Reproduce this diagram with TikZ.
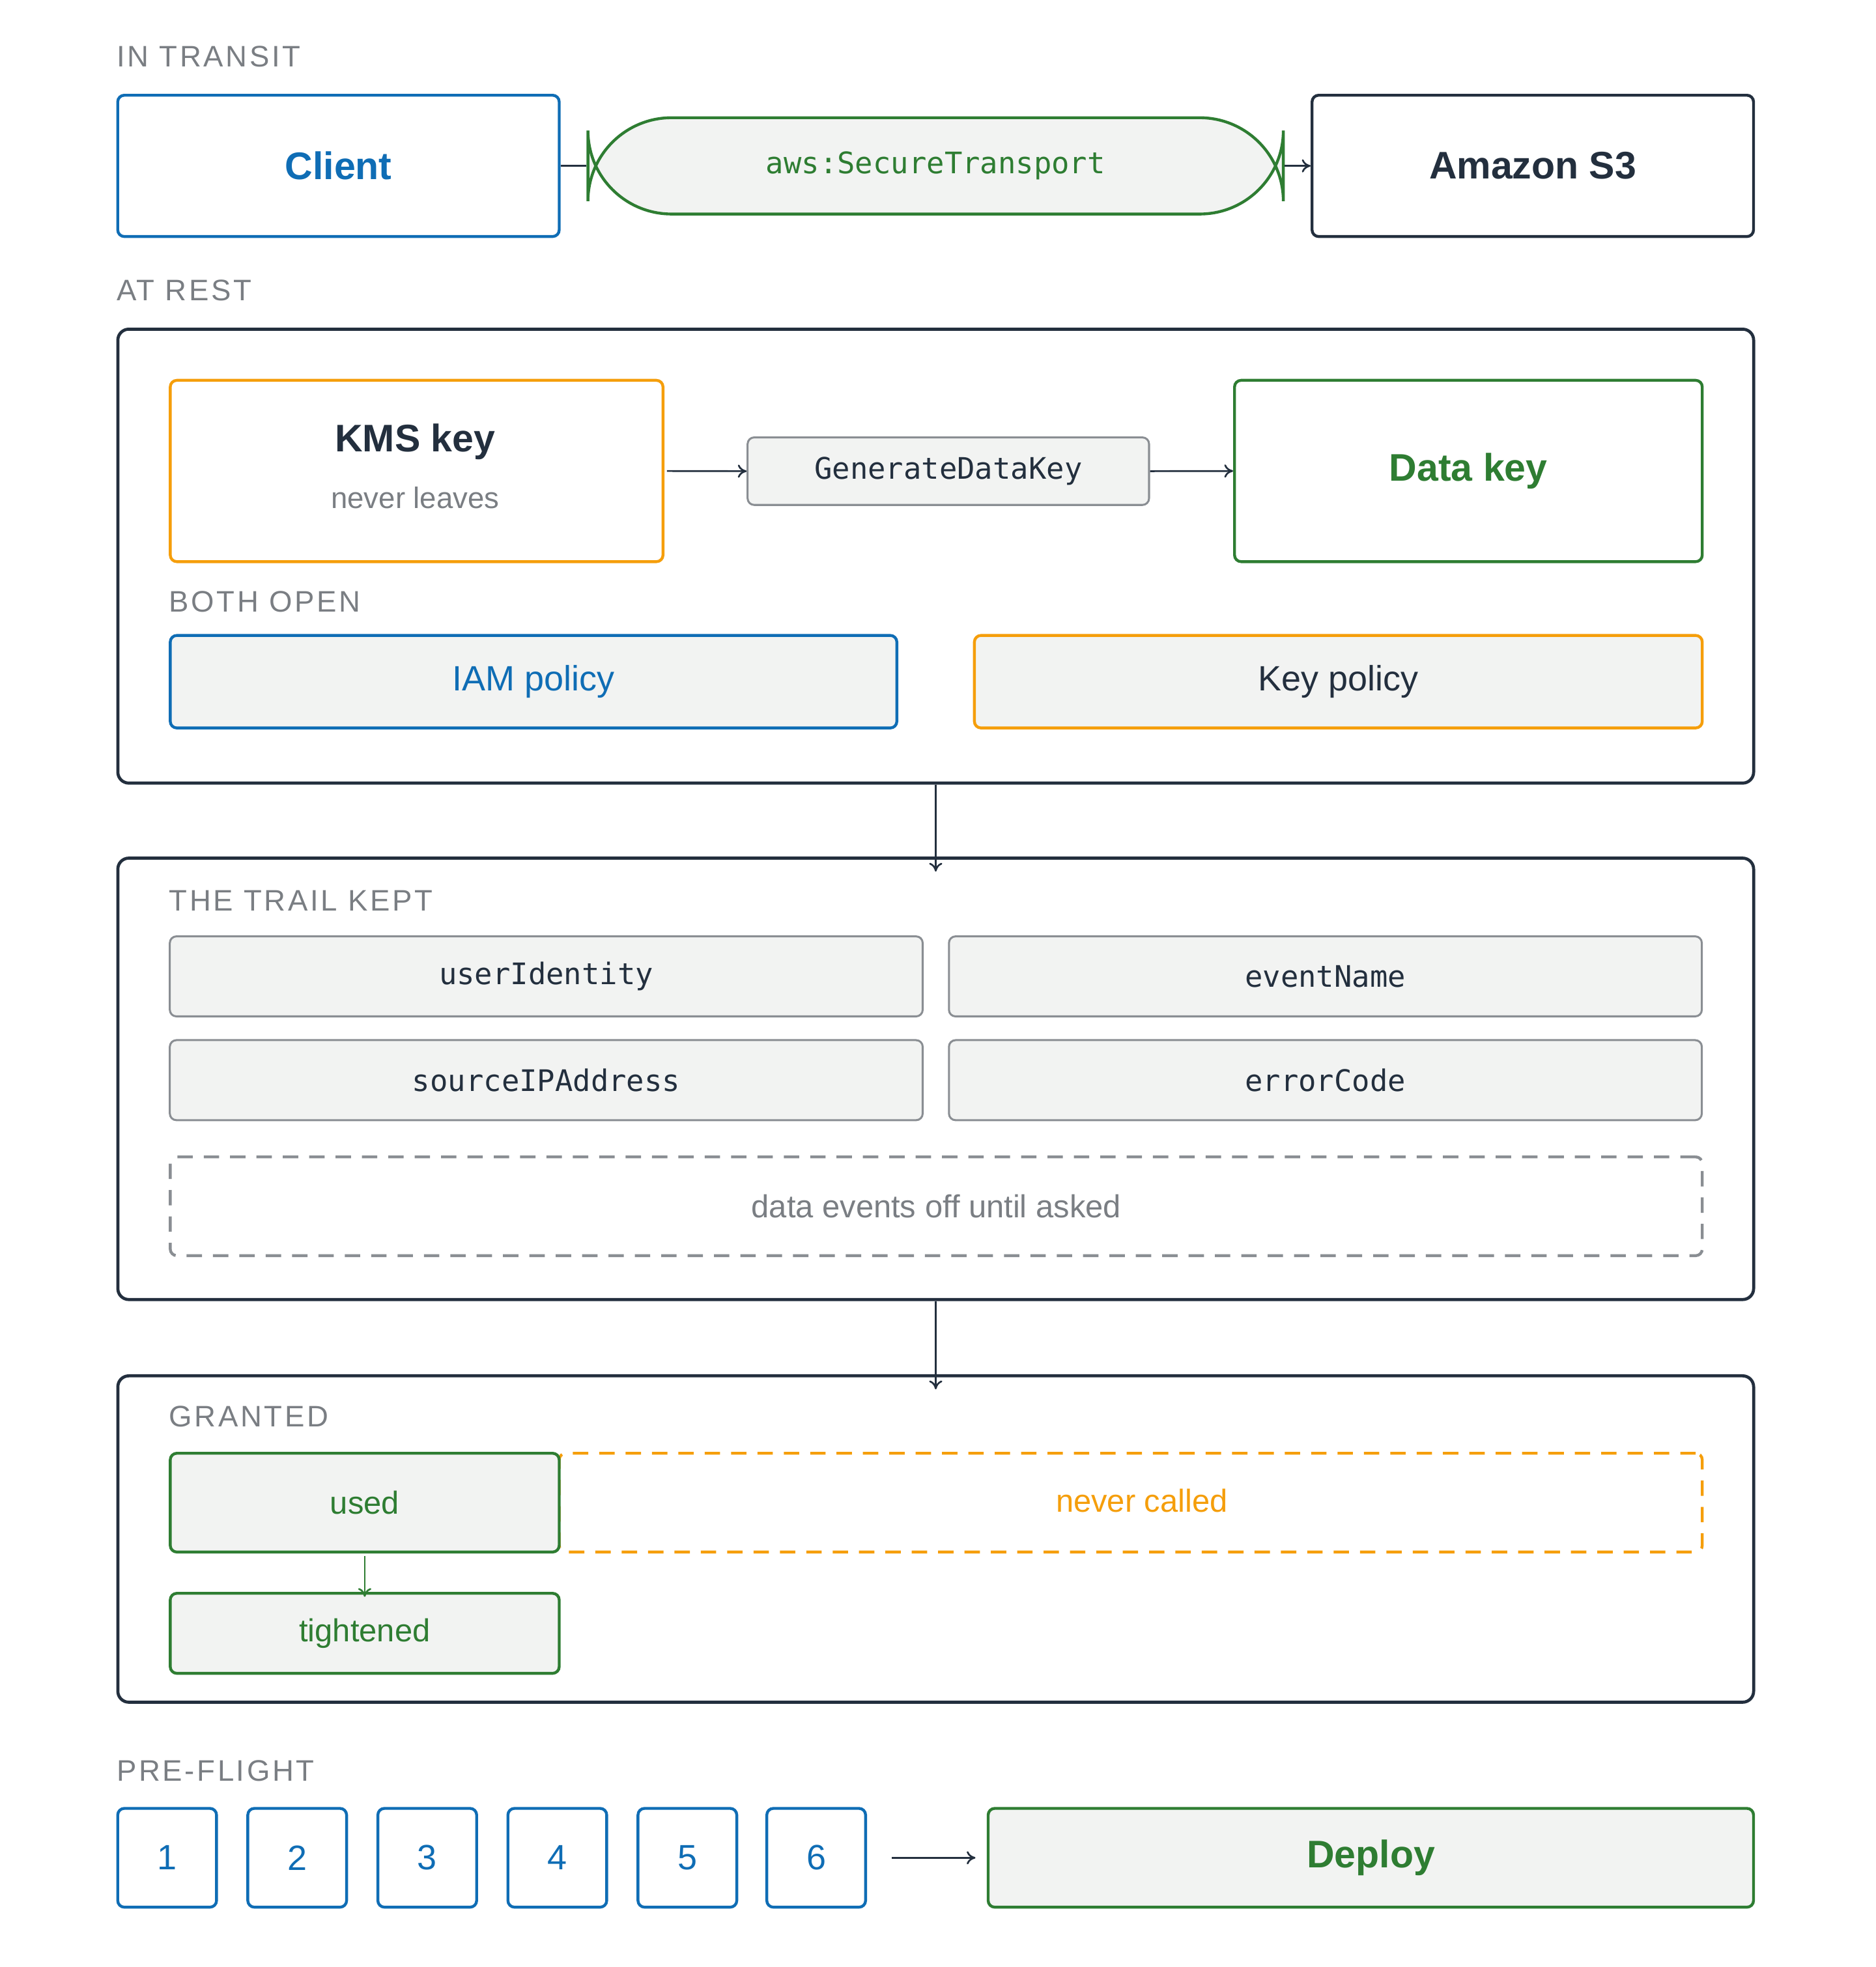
\documentclass[tikz,border=0pt]{standalone}
\usepackage{fontspec}
\setmainfont{Liberation Sans}
\newfontfamily\lblfont[LetterSpace=8]{Liberation Sans}
\newfontfamily\mono{DejaVu Sans Mono}
\usetikzlibrary{arrows.meta}
\definecolor{cblue}{HTML}{0F6DB5}
\definecolor{cdark}{HTML}{232F3E}
\definecolor{cgreen}{HTML}{2E7D32}
\definecolor{corange}{HTML}{F59E0B}
\definecolor{cgray}{HTML}{8A8E93}
\definecolor{cfill}{HTML}{F2F3F2}
\definecolor{ctext}{HTML}{7A7E83}
\tikzset{
  x=0.02cm,y=-0.02cm,
  bx/.style 2 args={draw,rounded corners=3pt,line width=1.3pt,inner sep=0pt,anchor=north west,minimum width=#1*0.02cm,minimum height=#2*0.02cm,align=center},
  cont/.style 2 args={bx={#1}{#2},draw=cdark,line width=1.4pt,rounded corners=5pt},
  lbl/.style={anchor=west,text=ctext,font=\lblfont\fontsize{13.5}{16}\selectfont,inner sep=0pt},
  arr/.style={draw=cdark,line width=0.8pt,-{To[length=4pt,width=6pt]}},
  monof/.style={font=\mono\fontsize{13.5}{16}\selectfont},
  txt/.style={font=\fontsize{16}{19}\selectfont},
}
\begin{document}
\begin{tikzpicture}
\useasboundingbox[fill=white] (0,0) rectangle (1500,1573);
% IN TRANSIT
\node[lbl] (l1) at (93,45) {IN TRANSIT};
\node[bx={353}{113},draw=cblue,text=cblue,font=\bfseries\fontsize{17.5}{20}\selectfont] (client) at (93,75) {Client};
\node[bx={556}{77},draw=cgreen,fill=cfill,rounded corners=38pt,text=cgreen,monof] (st) at (469,93) {aws:SecureTransport};
\node[bx={353}{113},draw=cdark,text=cdark,font=\bfseries\fontsize{17.5}{20}\selectfont] (s3) at (1048,75) {Amazon S3};
\draw[draw=cdark,line width=0.8pt] (client.east) -- (st.west);
\draw[arr] (st.east) -- (s3.west);
% AT REST
\node[lbl] (l2) at (93,232) {AT REST};
\node[cont={1308}{363}] (rest) at (93,262) {};
\node[bx={394}{145},draw=corange] (kms) at (135,303) {};
\node[text=cdark,font=\bfseries\fontsize{17.5}{20}\selectfont] (kmst) at (332,353) {KMS key};
\node[text=ctext,font=\fontsize{13.5}{16}\selectfont] (kmss) at (332,398) {never leaves};
\node[bx={321}{54},draw=cgray,fill=cfill,text=cdark,monof,line width=0.9pt] (gdk) at (597,349) {GenerateDataKey};
\node[bx={374}{145},draw=cgreen,text=cgreen,font=\bfseries\fontsize{17.5}{20}\selectfont] (dk) at (986,303) {Data key};
\draw[arr] (kms.east) ++(2,0) coordinate (a1) -- (gdk.west);
\draw[arr] (gdk.east) -- (dk.west);
\node[lbl] (l3) at (135,481) {BOTH OPEN};
\node[bx={581}{74},draw=cblue,fill=cfill,text=cblue,txt] (iam) at (135,507) {IAM policy};
\node[bx={582}{74},draw=corange,fill=cfill,text=cdark,txt] (kp) at (778,507) {Key policy};
% TRAIL
\node[cont={1308}{353}] (trail) at (93,685) {};
\draw[arr] (rest.south) -- ([yshift=-0.24cm]trail.north);
\node[lbl] (l4) at (135,720) {THE TRAIL KEPT};
\tikzset{fld/.style={bx={602}{64},draw=cgray,fill=cfill,text=cdark,monof,line width=0.9pt}}
\node[fld] (f1) at (135,748) {userIdentity};
\node[fld] (f2) at (758,748) {eventName};
\node[fld] (f3) at (135,831) {sourceIPAddress};
\node[fld] (f4) at (758,831) {errorCode};
\node[bx={1225}{79},draw=cgray,dashed,dash pattern=on 7pt off 5pt,text=ctext,font=\fontsize{14.5}{17}\selectfont] (de) at (135,924) {data events off until asked};
% GRANTED
\node[cont={1308}{261}] (gr) at (93,1099) {};
\draw[arr] (trail.south) -- ([yshift=-0.24cm]gr.north);
\node[lbl] (l5) at (135,1133) {GRANTED};
\node[bx={914}{79},draw=corange,dash pattern=on 7pt off 5pt,text=corange,txt] (nc) at (446,1161) {\hspace*{0pt}};
\node[text=corange,font=\fontsize{14.5}{17}\selectfont] (nct) at (913,1200) {never called};
\node[bx={311}{79},draw=cgreen,fill=cfill,text=cgreen,font=\fontsize{14.5}{17}\selectfont] (used) at (135,1161) {used};
\node[bx={311}{64},draw=cgreen,fill=cfill,text=cgreen,font=\fontsize{14.5}{17}\selectfont] (tight) at (135,1273) {tightened};
\draw[arr,draw=cgreen] ([yshift=-0.04cm]used.south) -- ([yshift=-0.08cm]tight.north);
% PRE-FLIGHT
\node[lbl] (l6) at (93,1416) {PRE-FLIGHT};
\tikzset{num/.style={bx={79}{79},draw=cblue,text=cblue,txt}}
\node[num] (n1) at (93,1445) {1};
\node[num] (n2) at (197,1445) {2};
\node[num] (n3) at (301,1445) {3};
\node[num] (n4) at (405,1445) {4};
\node[num] (n5) at (509,1445) {5};
\node[num] (n6) at (612,1445) {6};
\node[bx={612}{79},draw=cgreen,fill=cfill,text=cgreen,font=\bfseries\fontsize{17.5}{20}\selectfont] (dep) at (789,1445) {Deploy};
\draw[arr] ([xshift=0.4cm]n6.east) -- ([xshift=-0.18cm]dep.west);
\end{tikzpicture}
\end{document}
